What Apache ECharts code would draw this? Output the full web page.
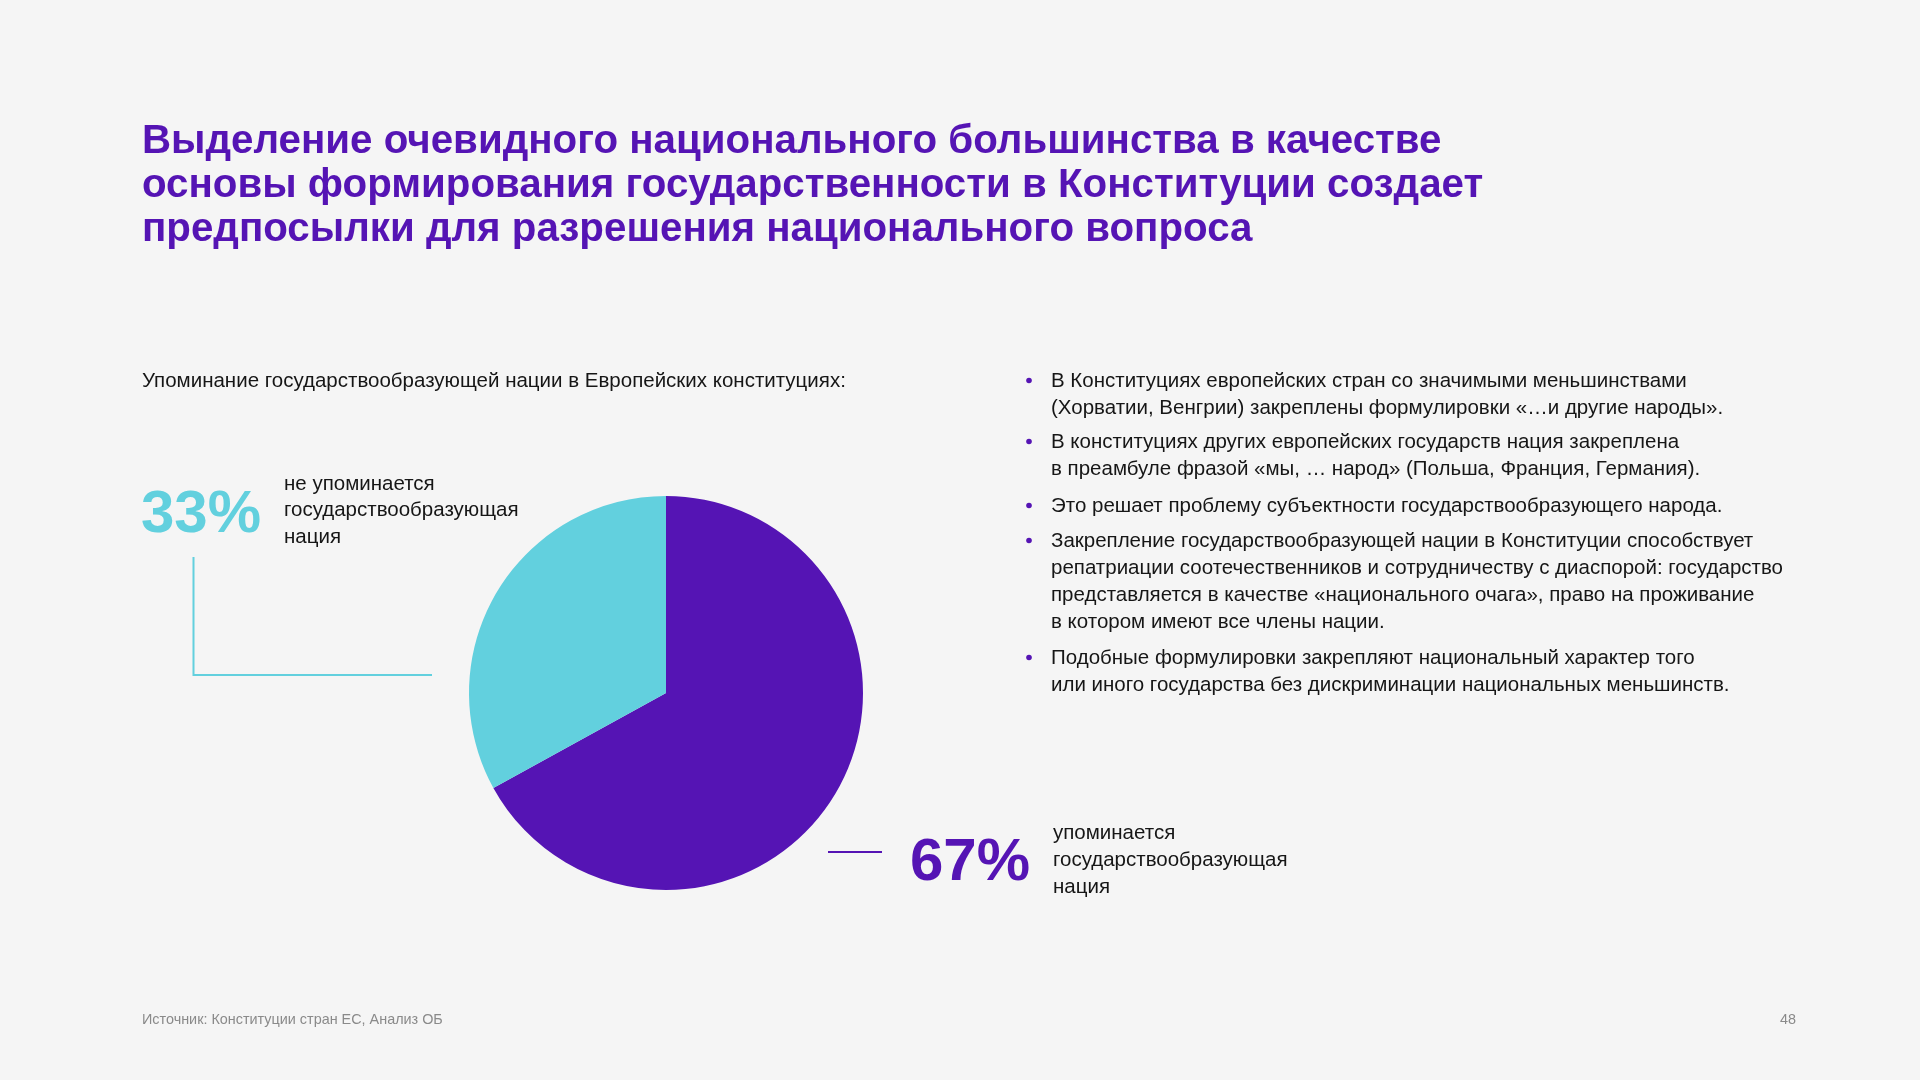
<!DOCTYPE html>
<html>
<head>
<meta charset="utf-8">
<script src="https://cdn.jsdelivr.net/npm/echarts@6/dist/echarts.min.js"></script>
<style>
html,body{margin:0;padding:0;background:#f5f5f5;}
#chart{width:1920px;height:1080px;}
</style>
</head>
<body>
<div id="chart"></div>
<script>
var titleLines = [
  'Выделение очевидного национального большинства в качестве',
  'основы формирования государственности в Конституции создает',
  'предпосылки для разрешения национального вопроса'
];
var subtitle = 'Упоминание государствообразующей нации в Европейских конституциях:';
var categories = ['упоминается государствообразующая нация', 'не упоминается государствообразующая нация'];
var values = [67, 33];
var labelLinesMentioned = ['упоминается', 'государствообразующая', 'нация'];
var labelLinesNotMentioned = ['не упоминается', 'государствообразующая', 'нация'];
var bullets = [
  ['В Конституциях европейских стран со значимыми меньшинствами', '(Хорватии, Венгрии) закреплены формулировки «…и другие народы».'],
  ['В конституциях других европейских государств нация закреплена', 'в преамбуле фразой «мы, … народ» (Польша, Франция, Германия).'],
  ['Это решает проблему субъектности государствообразующего народа.'],
  ['Закрепление государствообразующей нации в Конституции способствует', 'репатриации соотечественников и сотрудничеству с диаспорой: государство', 'представляется в качестве «национального очага», право на проживание', 'в котором имеют все члены нации.'],
  ['Подобные формулировки закрепляют национальный характер того', 'или иного государства без дискриминации национальных меньшинств.']
];
var sourceText = 'Источник: Конституции стран ЕС, Анализ ОБ';
var pageNumber = '48';

var PURPLE = '#5514b4';
var CYAN = '#62d0de';
var TEXT = '#161616';
var FONT = '"Liberation Sans", Arial, sans-serif';

var chart = echarts.init(document.getElementById('chart'));

var graphics = [];
graphics.push({
  type: 'text', left: 142, top: 120,
  style: { text: titleLines.join('\n'), fill: PURPLE, font: 'bold 40.3px ' + FONT, lineHeight: 44 }
});
graphics.push({
  type: 'text', left: 142, top: 368,
  style: { text: subtitle, fill: TEXT, font: '20.5px ' + FONT, lineHeight: 27 }
});
// 33% label
graphics.push({
  type: 'text', left: 141, top: 485,
  style: { text: values[1] + '%', fill: CYAN, font: 'bold 60px ' + FONT }
});
graphics.push({
  type: 'text', left: 284, top: 471,
  style: { text: labelLinesNotMentioned.join('\n'), fill: TEXT, font: '20.5px ' + FONT, lineHeight: 26.5 }
});
graphics.push({
  type: 'polyline',
  shape: { points: [[193.5, 557], [193.5, 675], [432, 675]] },
  style: { stroke: CYAN, lineWidth: 2, fill: null }
});
// 67% label
graphics.push({
  type: 'line',
  shape: { x1: 828, y1: 852, x2: 882, y2: 852 },
  style: { stroke: PURPLE, lineWidth: 2 }
});
graphics.push({
  type: 'text', left: 910, top: 833,
  style: { text: values[0] + '%', fill: PURPLE, font: 'bold 60px ' + FONT }
});
graphics.push({
  type: 'text', left: 1053, top: 820,
  style: { text: labelLinesMentioned.join('\n'), fill: TEXT, font: '20.5px ' + FONT, lineHeight: 27 }
});
// bullets
var bulletTops = [367.5, 428.5, 492.5, 527.5, 644.5];
bullets.forEach(function (b, i) {
  graphics.push({
    type: 'circle', shape: { cx: 1029, cy: bulletTops[i] + 13, r: 2.8 },
    style: { fill: PURPLE }
  });
  graphics.push({
    type: 'text', left: 1051, top: bulletTops[i],
    style: { text: b.join('\n'), fill: TEXT, font: '20.5px ' + FONT, lineHeight: 27 }
  });
});
// footer
graphics.push({
  type: 'text', left: 142, top: 1013,
  style: { text: sourceText, fill: '#8a8a8a', font: '14.4px ' + FONT }
});
graphics.push({
  type: 'text', right: 124, top: 1013,
  style: { text: pageNumber, fill: '#8a8a8a', font: '14.4px ' + FONT }
});

chart.setOption({
  backgroundColor: '#f5f5f5',
  animation: false,
  graphic: graphics,
  series: [{
    type: 'pie',
    center: [666, 693],
    radius: [0, 197],
    startAngle: 90,
    clockwise: true,
    silent: true,
    label: { show: false },
    labelLine: { show: false },
    itemStyle: { borderWidth: 0 },
    data: categories.map(function (c, i) {
      return { name: c, value: values[i], itemStyle: { color: i === 0 ? PURPLE : CYAN } };
    })
  }]
});
</script>
</body>
</html>
